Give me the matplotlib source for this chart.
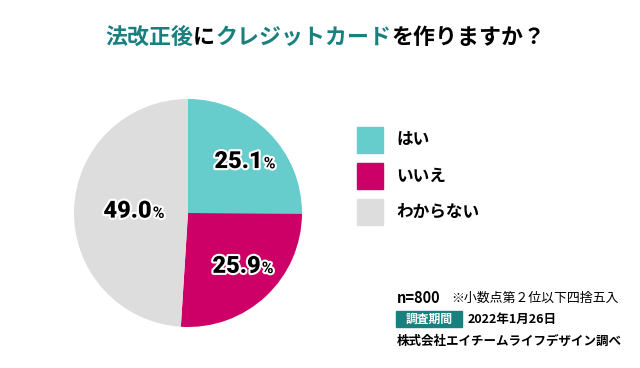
import numpy as np
import matplotlib.pyplot as plt
import matplotlib.patheffects as pe

JP = ['Noto Sans CJK JP', 'DejaVu Sans']
NUM = ['Roboto', 'DejaVu Sans']

labels = ['はい', 'いいえ', 'わからない']
values = [25.1, 25.9, 49.0]
colors = ['#66cccc', '#cc0066', '#dddddd']
label_dist = [0.64, 0.64, 0.52]

W, H = 640, 368
fig = plt.figure(figsize=(W / 100, H / 100), dpi=100)

# pie axes: centre (188, 213) px, radius 114 px
cx, cy, r = 188, 213, 114
ax = fig.add_axes([(cx - r) / W, (H - cy - r) / H, 2 * r / W, 2 * r / H])
wedges, _ = ax.pie(values, colors=colors, startangle=90, counterclock=False,
                   radius=1.0, wedgeprops=dict(linewidth=0))
ax.set_xlim(-1, 1)
ax.set_ylim(-1, 1)
ax.set_aspect('equal')
ax.axis('off')

stroke = [pe.withStroke(linewidth=3, foreground='white')]
for w, v, d in zip(wedges, values, label_dist):
    ang = np.deg2rad((w.theta1 + w.theta2) / 2)
    x, y = d * np.cos(ang), d * np.sin(ang)
    ax.text(x + 0.2, y, '%.1f' % v, ha='right', va='center', fontsize=17,
            fontweight='black', family=NUM, color='black', path_effects=stroke)
    ax.text(x + 0.21, y - 0.02, '%', ha='left', va='center', fontsize=11.5,
            fontweight='bold', family=NUM, color='black', path_effects=stroke)

# title (mixed colours)
title_parts = [('法改正後', '#1a7f7f'), ('に', 'black'), ('クレジットカード', '#1a7f7f'),
               ('を作りますか？', 'black')]
tx = 105 / W
renderer = fig.canvas.get_renderer()
for txt, col in title_parts:
    t = fig.text(tx, 1 - 37 / H, txt, ha='left', va='center', fontsize=15.8,
                 fontweight='bold', family=JP, color=col)
    bb = t.get_window_extent(renderer=renderer)
    tx += bb.width / W

# legend
for i, (lab, col) in enumerate(zip(labels, colors)):
    yc = 140 + i * 36
    fig.patches.append(plt.Rectangle((357 / W, 1 - (yc + 13) / H), 26 / W, 26 / H,
                                     transform=fig.transFigure, color=col, figure=fig))
    fig.text(396 / W, 1 - yc / H, lab, ha='left', va='center', fontsize=12,
             fontweight='bold', family=JP)

# footer
fig.text(397 / W, 1 - 298 / H, 'n=800', ha='left', va='center', fontsize=10.5,
         family=JP, fontweight='bold')
fig.text(451 / W, 1 - 298 / H, '※小数点第２位以下四捨五入', ha='left', va='center',
         fontsize=9.3, family=JP)
fig.patches.append(plt.Rectangle((396 / W, 1 - 327 / H), 66 / W, 16 / H,
                                 transform=fig.transFigure, color='#1a7f7f', figure=fig))
fig.text(429 / W, 1 - 319 / H, '調査期間', ha='center', va='center', fontsize=8.5,
         family=JP, fontweight='bold', color='white')
fig.text(468 / W, 1 - 319 / H, '2022年1月26日', ha='left', va='center', fontsize=9,
         family=JP, fontweight='bold')
fig.text(397 / W, 1 - 341 / H, '株式会社エイチームライフデザイン調べ', ha='left',
         va='center', fontsize=9, family=JP, fontweight='bold')

fig.savefig('out.png', dpi=100)
